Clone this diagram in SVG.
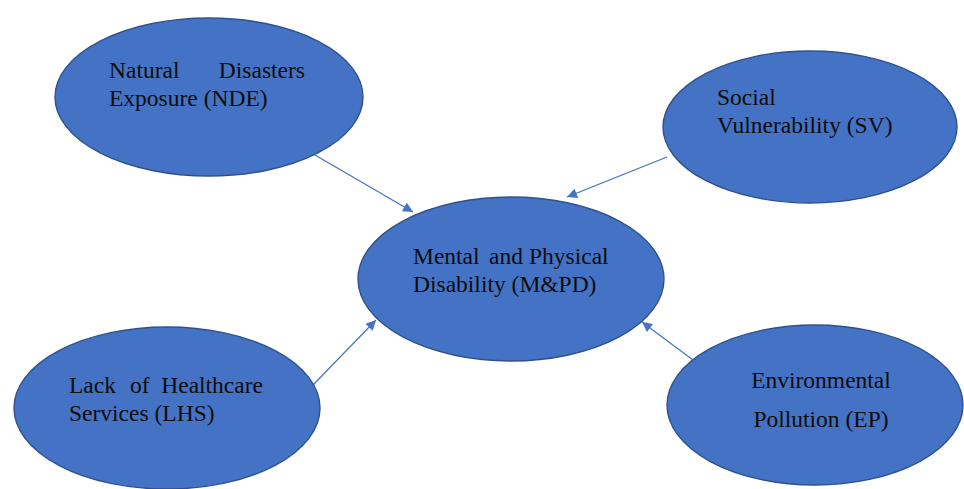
<svg xmlns="http://www.w3.org/2000/svg" width="964" height="489" viewBox="0 0 964 489">
  <style>
    .node { fill: #4472C4; stroke: #2F528F; stroke-width: 1.4; }
    .label { font-family: "Liberation Serif", "Times New Roman", serif; font-size: 23.5px; fill: #0d0d0d; }
    .edge { stroke: #4472C4; stroke-width: 1.2; fill: none; marker-end: url(#arrow); }
  </style>
  <defs>
    <marker id="arrow" viewBox="0 0 10 10" refX="10" refY="5" markerWidth="13" markerHeight="10" markerUnits="userSpaceOnUse" orient="auto">
      <path d="M0,0 L10,5 L0,10 z" fill="#4472C4"/>
    </marker>
  </defs>
  <rect width="964" height="489" fill="#ffffff"/>

  <g id="connectors">
    <line class="edge" x1="315" y1="155" x2="413" y2="212"/>
    <line class="edge" x1="667" y1="157" x2="567" y2="197"/>
    <line class="edge" x1="313" y1="385" x2="376" y2="320"/>
    <line class="edge" x1="693" y1="360" x2="642" y2="322"/>
  </g>

  <g id="node-nde">
    <ellipse class="node" cx="209" cy="97" rx="154" ry="79"/>
    <text class="label" x="109" y="78">Natural</text>
    <text class="label" x="305" y="78" text-anchor="end">Disasters</text>
    <text class="label" x="109" y="106">Exposure (NDE)</text>
  </g>

  <g id="node-sv">
    <ellipse class="node" cx="810" cy="127" rx="147" ry="76"/>
    <text class="label" x="717" y="105">Social</text>
    <text class="label" x="717" y="133">Vulnerability (SV)</text>
  </g>

  <g id="node-mpd">
    <ellipse class="node" cx="511" cy="279" rx="153" ry="82"/>
    <text class="label" x="413" y="264">Mental</text>
    <text class="label" x="489" y="264">and</text>
    <text class="label" x="529" y="264">Physical</text>
    <text class="label" x="413" y="292">Disability (M&amp;PD)</text>
  </g>

  <g id="node-lhs">
    <ellipse class="node" cx="167" cy="408" rx="153" ry="81"/>
    <text class="label" x="69" y="393">Lack</text>
    <text class="label" x="130" y="393">of</text>
    <text class="label" x="263" y="393" text-anchor="end">Healthcare</text>
    <text class="label" x="69" y="421">Services (LHS)</text>
  </g>

  <g id="node-ep">
    <ellipse class="node" cx="815" cy="405" rx="148" ry="80"/>
    <text class="label" x="821" y="388" text-anchor="middle">Environmental</text>
    <text class="label" x="821" y="427" text-anchor="middle">Pollution (EP)</text>
  </g>
</svg>
